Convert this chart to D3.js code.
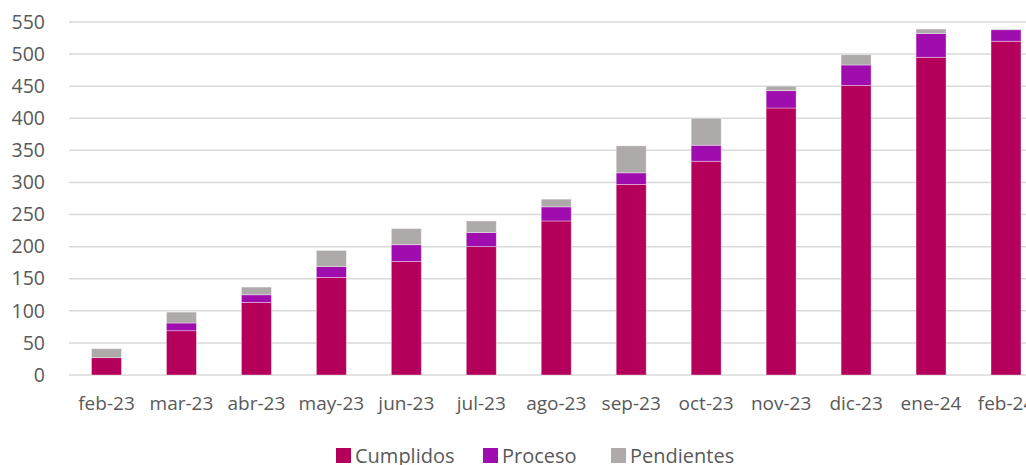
<!DOCTYPE html>
<html>
<head>
<meta charset="utf-8">
<script src="https://cdn.jsdelivr.net/npm/d3@7"></script>
<style>
  body { margin: 0; background: #fff; }
  svg { display: block; font-family: "Open Sans", sans-serif; }
</style>
</head>
<body>
<svg id="chart" width="1026" height="465"></svg>
<script>
const months = ["feb-23", "mar-23", "abr-23", "may-23", "jun-23", "jul-23", "ago-23",
  "sep-23", "oct-23", "nov-23", "dic-23", "ene-24", "feb-24"];
const cumplidos = [27, 69, 113, 152, 177, 200, 240, 297, 333, 416, 451, 495, 520];
const proceso = [0, 12, 12, 17, 26, 22, 22, 18, 25, 27, 32, 37, 18];
const pendientes = [14, 17, 12, 25, 25, 18, 12, 42, 42, 7, 16, 7, 1];
const yTicks = [0, 50, 100, 150, 200, 250, 300, 350, 400, 450, 500, 550];

const seriesNames = ["Cumplidos", "Proceso", "Pendientes"];
const colors = { Cumplidos: "#B4005A", Proceso: "#A00DAF", Pendientes: "#AEAAAA" };

const width = 1026, height = 465;
const plotLeft = 69, plotTop = 22, plotBottom = 375;

const svg = d3.select("#chart");

const table = months.map((m, i) => ({
  month: m, Cumplidos: cumplidos[i], Proceso: proceso[i], Pendientes: pendientes[i]
}));
const stacked = d3.stack().keys(seriesNames)(table);

const x = d3.scaleBand()
  .domain(months)
  .range([plotLeft, plotLeft + 13 * 74.96])
  .paddingInner(0.6)
  .paddingOuter(0.3);

const y = d3.scaleLinear()
  .domain([0, 550])
  .range([plotBottom, plotTop]);

// gridlines
svg.append("g")
  .selectAll("line")
  .data(yTicks)
  .join("line")
  .attr("x1", plotLeft)
  .attr("x2", width)
  .attr("y1", d => y(d))
  .attr("y2", d => y(d))
  .attr("stroke", "#d9d9d9")
  .attr("stroke-width", 1.5);

// y axis labels
const yAxis = d3.axisLeft(y).tickValues(yTicks).tickSize(0).tickPadding(0);
svg.append("g")
  .attr("transform", "translate(45,0)")
  .call(yAxis)
  .call(g => g.select(".domain").remove())
  .selectAll("text")
  .attr("font-family", "'Open Sans', sans-serif")
  .attr("font-size", "19.5px")
  .attr("fill", "#595959");

// bars
svg.append("g")
  .selectAll("g")
  .data(stacked)
  .join("g")
  .attr("fill", d => colors[d.key])
  .selectAll("rect")
  .data(d => d)
  .join("rect")
  .attr("x", d => x(d.data.month))
  .attr("y", d => y(d[1]))
  .attr("width", x.bandwidth())
  .attr("height", d => Math.max(0, y(d[0]) - y(d[1])))
  .attr("stroke", "rgba(255,255,255,0.45)")
  .attr("stroke-width", 0.8);

// x axis labels
const xAxis = d3.axisBottom(x).tickSize(0).tickPadding(0);
svg.append("g")
  .attr("transform", "translate(0,396)")
  .call(xAxis)
  .call(g => g.select(".domain").remove())
  .selectAll("text")
  .attr("font-family", "'Open Sans', sans-serif")
  .attr("font-size", "19px")
  .attr("fill", "#595959");

// legend
const legendX = [336, 483, 611];
const legend = svg.append("g")
  .selectAll("g")
  .data(seriesNames)
  .join("g")
  .attr("transform", (d, i) => `translate(${legendX[i]},448)`);

legend.append("rect")
  .attr("width", 15)
  .attr("height", 15)
  .attr("fill", d => colors[d]);

legend.append("text")
  .attr("x", 19)
  .attr("y", 15)
  .attr("font-size", "20px")
  .attr("fill", "#595959")
  .text(d => d);
</script>
</body>
</html>
